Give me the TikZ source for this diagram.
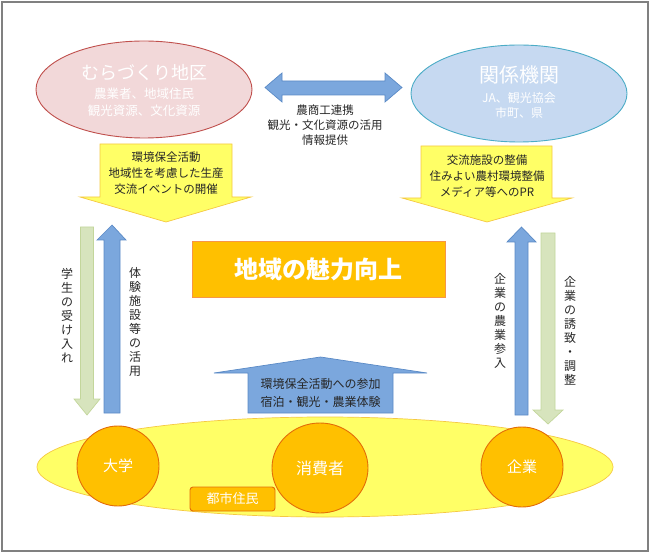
\documentclass[tikz,border=0pt]{standalone}
\usepackage{fontspec}
\setmainfont{Noto Sans CJK JP}
\usetikzlibrary{shapes.geometric}
\definecolor{framegray}{HTML}{808080}
\definecolor{pinkfill}{HTML}{F2D8D9}
\definecolor{pinkline}{HTML}{C0504D}
\definecolor{bluefill}{HTML}{C6D9F1}
\definecolor{blueline}{HTML}{4BACC6}
\definecolor{arrowblue}{HTML}{7BA7DD}
\definecolor{arrowblueline}{HTML}{5A8AC6}
\definecolor{arrowgreen}{HTML}{D7E4BD}
\definecolor{arrowgreenline}{HTML}{C3D69B}
\definecolor{yel}{HTML}{FFFF66}
\definecolor{yelline}{HTML}{F5C842}
\definecolor{orng}{HTML}{FFC000}
\definecolor{orngline}{HTML}{E36C09}
\definecolor{rectline}{HTML}{F79646}
\definecolor{txtgray}{HTML}{262626}
\newcommand\fsz[2]{\fontsize{#1}{#2}\selectfont}
\begin{document}
\begin{tikzpicture}[x=1pt,y=-1pt,
  ellbox/.style={ellipse, inner sep=0, line width=0.9pt},
  wt/.style={inner sep=0, align=center, text=white},
  bt/.style={inner sep=0, align=center, text=txtgray},
  blockblue/.style={fill=arrowblue, draw=arrowblueline, line width=0.7pt},
  blockgreen/.style={fill=arrowgreen, draw=arrowgreenline, line width=0.7pt},
  blockyel/.style={fill=yel, draw=yelline, line width=0.7pt},
  vtext/.style={bt, font=\fsz{12}{14}}
]
\useasboundingbox (0,0) rectangle (650,553);
\draw[framegray, line width=1.2pt] (2,2) rectangle (648,551);

% top ellipses
\node[ellbox, fill=pinkfill, draw=pinkline, minimum width=216, minimum height=97] (mura) at (144,89.5) {};
\node[ellbox, fill=bluefill, draw=blueline, minimum width=216, minimum height=97] (kankei) at (519,93.5) {};
\node[wt, font=\fsz{18}{22}] (muraT) at (144,73) {むらづくり地区};
\node[wt, font=\fsz{12.5}{17}] (muraS) at (144,102.5) {農業者、地域住民\\観光資源、文化資源};
\node[wt, font=\fsz{20}{24}] (kanT) at (519,75) {関係機関};
\node[wt, font=\fsz{12}{15}] (kanS) at (519,105.5) {JA、観光協会\\市町、県};

% double arrow
\path[blockblue] (265,87.5) -- (282,73) -- (282,81) -- (385,81) -- (385,73) -- (402,87.5)
  -- (385,102) -- (385,95) -- (282,95) -- (282,102) -- cycle;
\node[bt, font=\fsz{11.5}{15}] (mid) at (325,125) {農商工連携\\観光・文化資源の活用\\情報提供};

% yellow arrows
\path[blockyel] (100,144) -- (232,144) -- (232,197) -- (251,197) -- (166,222) -- (80,197) -- (100,197) -- cycle;
\node[bt, font=\fsz{11.5}{16}] (yl) at (166,173) {環境保全活動\\地域性を考慮した生産\\交流イベントの開催};
\path[blockyel] (421,146) -- (552,146) -- (552,198) -- (572,198) -- (487,222) -- (402,198) -- (421,198) -- cycle;
\node[bt, font=\fsz{11.5}{16}] (yr) at (487,176) {交流施設の整備\\住みよい農村環境整備\\メディア等へのPR};

% central box
\node[fill=orng, draw=rectline, line width=1pt, minimum width=253, minimum height=55, inner sep=0,
  text=white, font=\fsz{24}{28}\bfseries] (miryoku) at (318.5,269.5) {地域の魅力向上};

% vertical arrows
\path[blockgreen] (80.5,227) -- (93.5,227) -- (93.5,399) -- (100,399) -- (87,415) -- (74,399) -- (80.5,399) -- cycle;
\path[blockblue] (104,413) -- (104,240) -- (97,240) -- (112,225) -- (126,240) -- (120,240) -- (120,413) -- cycle;
\path[blockblue] (515,415) -- (515,242) -- (507,242) -- (521.5,227) -- (536,242) -- (528,242) -- (528,415) -- cycle;
\path[blockgreen] (541,233) -- (555,233) -- (555,410) -- (563,410) -- (548,424) -- (533,410) -- (541,410) -- cycle;
\node[vtext] (v1) at (67,316) {学\\生\\の\\受\\け\\入\\れ};
\node[vtext] (v2) at (135,322) {体\\験\\施\\設\\等\\の\\活\\用};
\node[vtext] (v3) at (500,321) {企\\業\\の\\農\\業\\参\\入};
\node[vtext] (v4) at (570,331) {企\\業\\の\\誘\\致\\・\\調\\整};

% bottom up arrow
\path[blockblue] (248,413) -- (248,373) -- (214,373) -- (320.5,357) -- (427,373) -- (393,373) -- (393,413) -- cycle;
\node[bt, font=\fsz{12}{17.5}] (up) at (320.5,393) {環境保全活動への参加\\宿泊・観光・農業体験};

% bottom group
\node[ellbox, fill=yel, draw=yelline, line width=0.7pt, minimum width=576, minimum height=100] (toshi) at (325,467) {};
\node[ellbox, fill=orng, draw=orngline, minimum width=82, minimum height=80, text=white, font=\fsz{15}{18}] (daigaku) at (118,466) {大学};
\node[ellbox, fill=orng, draw=orngline, minimum width=96, minimum height=90, text=white, font=\fsz{16}{19}] (shohisha) at (320,468) {消費者};
\node[ellbox, fill=orng, draw=orngline, minimum width=82, minimum height=80, text=white, font=\fsz{15}{18}] (kigyo) at (522,467) {企業};
\node[fill=orng, draw=orngline, line width=0.9pt, rounded corners=3pt, minimum width=85, minimum height=24, inner sep=0,
  text=white, font=\fsz{13}{16}] (jumin) at (232.5,499) {都市住民};
\end{tikzpicture}
\end{document}
